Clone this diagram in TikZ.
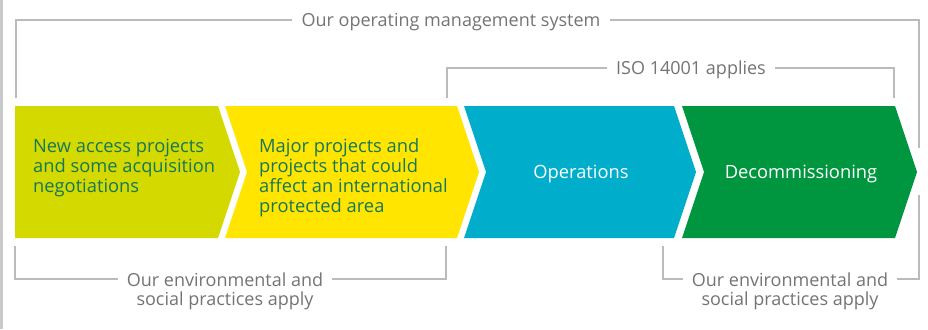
\documentclass[tikz,border=0pt]{standalone}
\usepackage{fontspec}
\setmainfont{Open Sans}
\usepackage{tikz}

\definecolor{limeb}{HTML}{D4DA00}
\definecolor{yelb}{HTML}{FFE500}
\definecolor{cyanb}{HTML}{00AECB}
\definecolor{greenb}{HTML}{009640}
\definecolor{darktxt}{HTML}{15775C}
\definecolor{greytxt}{HTML}{747474}
\definecolor{greyline}{HTML}{BBBBBB}

\tikzset{
  lbl/.style={text=greytxt, font=\fontsize{18}{19}\selectfont, inner xsep=9pt, inner ysep=0pt},
  oneline/.style={text height=13pt, text depth=0pt},
  bracket/.style={draw=greyline, line width=1.5pt},
  steptext/.style={font=\fontsize{18.3}{20}\selectfont, inner sep=0pt}
}

\begin{document}
\begin{tikzpicture}[x=1pt, y=-1pt]
\useasboundingbox (0,0) rectangle (928,329);
\fill[white] (0,0) rectangle (928,329);
\draw[draw=greyline!80, line width=2.5pt] (1.5,0) -- (1.5,329);
% the four stages
\fill[limeb] (15,106) -- (218,106) -- (240,172) -- (218,238) -- (15,238) -- cycle;
\fill[yelb] (225,106) -- (457,106) -- (479,172) -- (457,238) -- (225,238) -- (247,172) -- cycle;
\fill[cyanb] (464,106) -- (674,106) -- (696,172) -- (674,238) -- (464,238) -- (486,172) -- cycle;
\fill[greenb] (682,106) -- (895,106) -- (917,172) -- (895,238) -- (682,238) -- (704,172) -- cycle;
\node[steptext, text=darktxt, align=left, anchor=west] (s1) at (33,167.5)
  {New access projects\\and some acquisition\\negotiations};
\node[steptext, text=darktxt, align=left, anchor=west] (s2) at (259,177.5)
  {Major projects and\\projects that could\\affect an international\\protected area};
\node[steptext, oneline, text=white] (s3) at (581,172) {Operations};
\node[steptext, oneline, text=white] (s4) at (801,172) {Decommissioning};
% bracket labels
\node[lbl, oneline] (oms) at (451,20) {Our operating management system};
\node[lbl, oneline] (iso) at (691,68) {ISO 14001 applies};
\node[lbl, align=center] (envl) at (225,291) {Our environmental and\\social practices apply};
\node[lbl, align=center] (envr) at (790,291) {Our environmental and\\social practices apply};
\coordinate (tl) at (16,98);
\coordinate (tr) at (919,148);
\coordinate (il) at (447,98);
\coordinate (ir) at (894,98);
\coordinate (bll) at (15,246);
\coordinate (blr) at (446,246);
\coordinate (brl) at (663,246);
\coordinate (brr) at (919,195);
\draw[bracket] (tl) |- (oms.west);
\draw[bracket] (oms.east) -| (tr);
\draw[bracket] (il) |- (iso.west);
\draw[bracket] (iso.east) -| (ir);
\draw[bracket] (bll) |- ([yshift=12pt]envl.west);
\draw[bracket] (blr) |- ([yshift=12pt]envl.east);
\draw[bracket] (brl) |- ([yshift=12pt]envr.west);
\draw[bracket] (brr) |- ([yshift=12pt]envr.east);
\end{tikzpicture}
\end{document}
